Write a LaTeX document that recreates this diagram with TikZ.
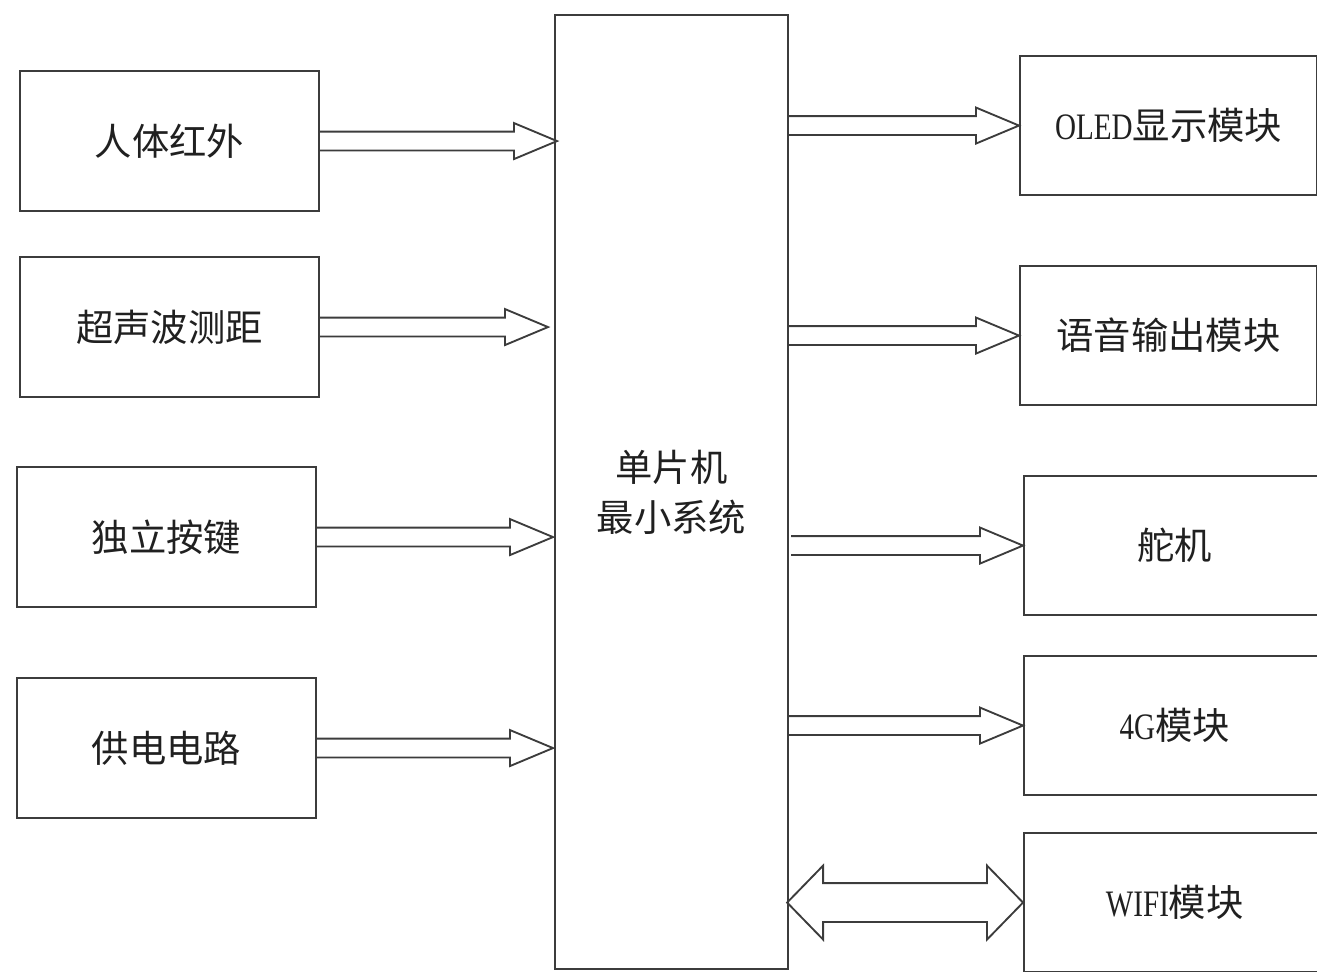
\documentclass[tikz,border=0pt]{standalone}
\usepackage{fontspec}
\setmainfont{Noto Sans CJK SC}
\newfontfamily\lat[FakeStretch=0.78]{Liberation Serif}
\usetikzlibrary{calc}
\definecolor{ln}{HTML}{3C3C3C}
\definecolor{tx}{HTML}{202020}
\tikzset{
  box/.style={draw=ln, line width=1.6pt, anchor=north west, inner sep=0pt,
    text=tx, align=center, font=\fontsize{28}{37.5}\selectfont},
  lbox/.style={box, minimum width=224.25pt, minimum height=105pt},
  rbox/.style={box, minimum width=222.75pt, minimum height=104.25pt},
  obox/.style={box, minimum width=226pt, minimum height=104.25pt},
  barr/.style={draw=ln, line width=1.4pt, line join=miter}
}
% single block arrow: start point, tip point (horizontal)
\newcommand\barrow[2]{%
  \draw[barr] let \p1=(#1), \p2=(#2) in
    (\x1,\y1+7.1pt) -- (\x2-32.25pt,\y1+7.1pt) -- (\x2-32.25pt,\y1+13.5pt)
    -- (\x2,\y1) -- (\x2-32.25pt,\y1-13.5pt) -- (\x2-32.25pt,\y1-7.1pt) -- (\x1,\y1-7.1pt);}
\begin{document}
\begin{tikzpicture}[x=0.75pt,y=-0.75pt]
\useasboundingbox (0,0) rectangle (1317,971);
\clip (0,0) rectangle (1317,971);
% central block
\node[box, minimum width=174.75pt, minimum height=715.5pt] (mcu) at (554,14) {单片机\\最小系统};
% inputs
\node[lbox] (a) at (19,70)  {人体红外};
\node[lbox] (b) at (19,256) {超声波测距};
\node[lbox] (c) at (16,466) {独立按键};
\node[lbox] (d) at (16,677) {供电电路};
% outputs
\node[rbox] (e) at (1019,55)  {{\lat OLED}显示模块};
\node[rbox] (f) at (1019,265) {语音输出模块};
\node[obox] (g) at (1023,475) {舵机};
\node[obox] (h) at (1023,655) {{\lat 4G}模块};
\node[obox] (i) at (1023,832) {{\lat WIFI}模块};
% input arrows
\barrow{a.east}{$(mcu.west |- a.east)+(3,0)$}
\barrow{b.east}{$(mcu.west |- b.east)+(-6,0)$}
\barrow{c.east}{$(mcu.west |- c.east)+(-1,0)$}
\barrow{d.east}{$(mcu.west |- d.east)+(-1,0)$}
% output arrows
\barrow{$(mcu.east |- e.west)+(-2,0)$}{e.west}
\barrow{mcu.east |- f.west}{f.west}
\barrow{$(mcu.east |- g.west)+(2,0)$}{g.west}
\barrow{mcu.east |- h.west}{h.west}
% bidirectional arrow
\draw[barr] let \p1=($(mcu.east |- i.west)+(-2,0)$), \p2=(i.west) in
  (\x1,\y1) -- (\x1+27pt,\y1+27.75pt) -- (\x1+27pt,\y1+14.6pt)
  -- (\x2-27pt,\y1+14.6pt) -- (\x2-27pt,\y1+27.75pt) -- (\x2,\y1)
  -- (\x2-27pt,\y1-27.75pt) -- (\x2-27pt,\y1-14.6pt)
  -- (\x1+27pt,\y1-14.6pt) -- (\x1+27pt,\y1-27.75pt) -- cycle;
\end{tikzpicture}
\end{document}
